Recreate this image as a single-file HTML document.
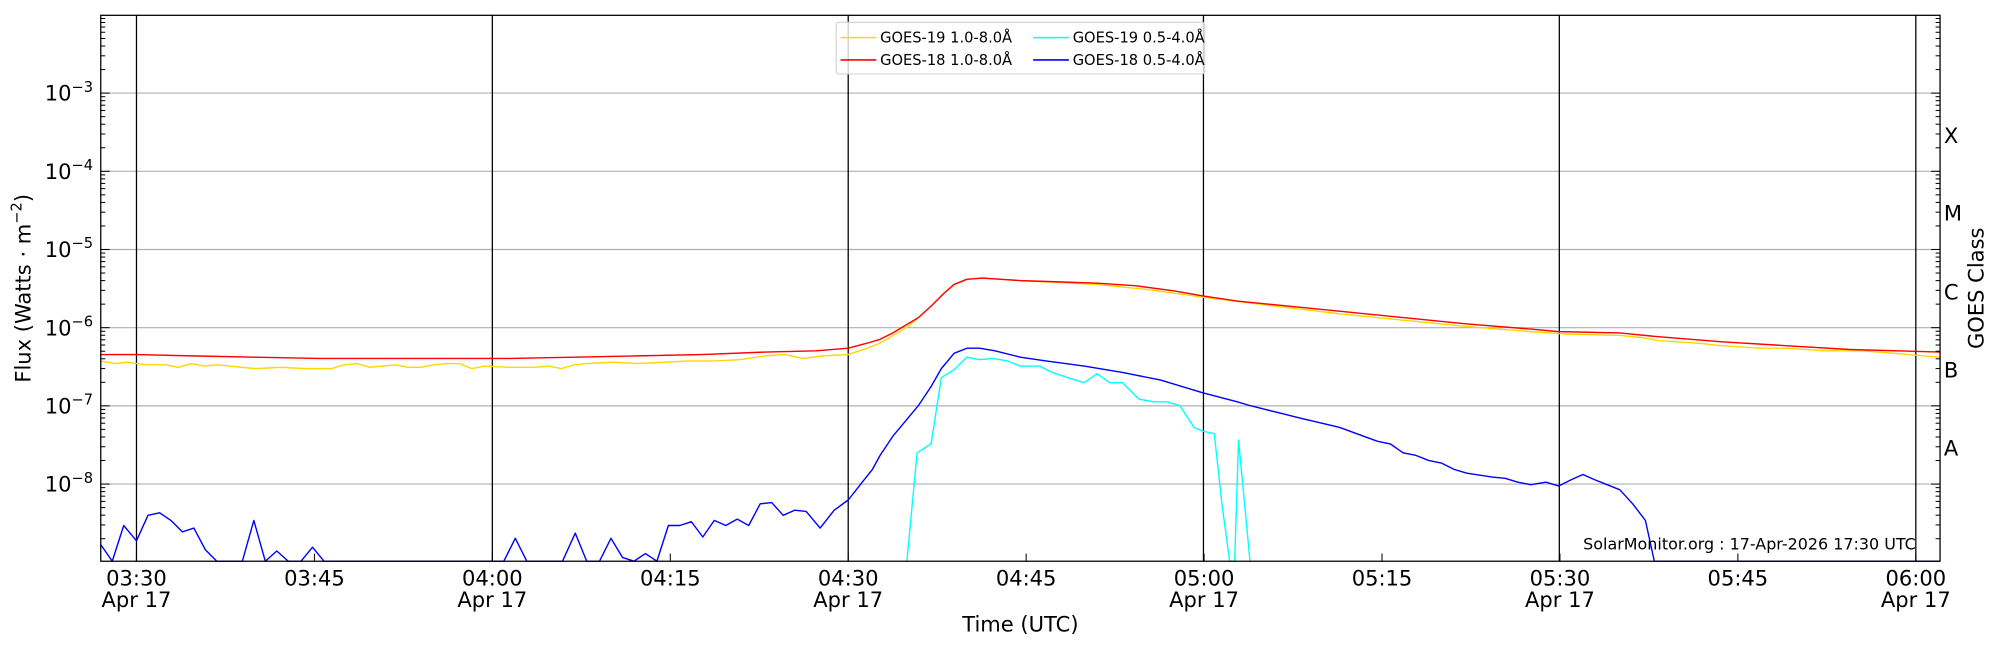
<!DOCTYPE html>
<html><head><meta charset="utf-8"><style>
html,body{margin:0;padding:0;background:#fff;width:2000px;height:650px;overflow:hidden}
svg{display:block}
text{font-family:"DejaVu Sans","Liberation Sans",sans-serif;fill:#000}
</style></head><body>
<svg id="s" width="2000" height="650" viewBox="0 0 1568 509.6" preserveAspectRatio="none" xmlns="http://www.w3.org/2000/svg">
<g id="grid" stroke="#b0b0b0" stroke-width="0.9">
<line x1="79" x2="1521" y1="73" y2="73"/><line x1="79" x2="1521" y1="134.3" y2="134.3"/>
<line x1="79" x2="1521" y1="195.6" y2="195.6"/><line x1="79" x2="1521" y1="256.9" y2="256.9"/>
<line x1="79" x2="1521" y1="318.2" y2="318.2"/><line x1="79" x2="1521" y1="379.5" y2="379.5"/>
</g>
<g stroke="#000" stroke-width="1">
<line x1="107" x2="107" y1="12" y2="440"/><line x1="386" x2="386" y1="12" y2="440"/>
<line x1="665" x2="665" y1="12" y2="440"/><line x1="943.5" x2="943.5" y1="12" y2="440"/>
<line x1="1222.5" x2="1222.5" y1="12" y2="440"/><line x1="1502" x2="1502" y1="12" y2="440"/>
</g>
<g fill="none" stroke-width="1.1" stroke-linejoin="round">
<polyline stroke="#00ffff" points="711,440 719,355 730,348 738,296 748,290 758,280 768,282 778,281 790,283 800,287 815,287 825,292 840,297 850,300 860,293 870,300 880,300 893,313 905,315 915,315 925,318 936,335 943,338 952,340 958,395 964,440 968,440 971,345 980,440"/>
<polyline stroke="#0000ff" points="79,427 88,440 97,412 107,424 116,404 125,402 134,408 143,417 152,414 161,431 170,440 190,440 199,408 208,440 217,432 226,440 236,440 245,429 254,440 395,440 404,422 413,440 441,440 451,418 460,440 470,440 479,422 488,437 497,440 506,434 515,440 524,412 533,412 542,409 551,421 560,408 569,412 578,407 587,412 596,395 605,394 614,404 623,400 632,401 643,414 654,400 665,392 676,378 684,368 690,357 700,342 710,330 720,318 730,303 738,289 748,277 758,273 768,273 780,275 800,280 820,283 850,287 880,292 910,298 943,308 970,315 980,318 1000,323 1020,328 1050,335 1080,346 1090,348 1100,355 1110,357 1120,361 1130,363 1140,368 1150,371 1170,374 1180,375 1190,378 1200,380 1212,378 1222,381 1232,376 1241,372 1250,376 1260,380 1270,384 1280,395 1290,408 1297,440 1521,440"/>
<polyline stroke="#ffd700" points="79,283 90,285 100,284 107,285 115,286 130,286 140,288 150,285 160,287 170,286 180,287 200,289 220,288 240,289 260,289 270,286 280,285 290,288 300,287 310,286 320,288 330,288 340,286 350,285 360,285 370,289 380,287 400,288 420,288 430,287 440,289 450,286 460,285 480,284 500,285 520,284 540,283 560,283 580,282 600,279 615,278 630,281 645,279 665,278 680,273 690,269 700,263 712,256 720,249 730,240 740,230 748,223 758,219 770,218 800,220 860,223 900,227 943,233 1000,240 1050,246 1100,251 1150,256 1200,260 1230,262 1270,263 1290,265 1300,267 1330,269 1350,271 1380,273 1400,273 1430,275 1460,275 1521,280"/>
<polyline stroke="#ff0000" points="79,278 107,278 150,279 200,280 250,281 300,281 350,281 400,281 450,280 500,279 550,278 600,276 640,275 665,273 680,269 690,266 700,261 710,255 720,249 730,240 740,230 748,223 758,219 770,218 785,219 800,220 830,221 860,222 890,224 920,228 943,232 970,236 1000,239 1050,244 1100,249 1150,254 1200,258 1222,260 1270,261 1300,264 1350,268 1400,271 1450,274 1521,276"/>
</g>
<g id="ticks" stroke="#000" stroke-width="0.8"></g>
<rect x="79" y="12" width="1442" height="428" fill="none" stroke="#000" stroke-width="1"/>
<g font-size="16.5" text-anchor="end" id="ylab"></g>
<g font-size="16.5" text-anchor="middle" id="xlab"></g>
<g font-size="16.5">
<text x="1524" y="112">X</text><text x="1524" y="173">M</text><text x="1524" y="235">C</text><text x="1524" y="296">B</text><text x="1524" y="357">A</text>
</g>
<text font-size="16.5" transform="translate(1555,226) rotate(-90)" text-anchor="middle">GOES Class</text>
<text font-size="16.5" transform="translate(24,226) rotate(-90)" text-anchor="middle">Flux (Watts · m<tspan font-size="11.5" dy="-7">−2</tspan><tspan dy="7">)</tspan></text>
<text font-size="16.5" x="800" y="495" text-anchor="middle">Time (UTC)</text>
<text font-size="12.5" x="1502" y="431" text-anchor="end">SolarMonitor.org : 17-Apr-2026 17:30 UTC</text>
<rect x="655.5" y="17.5" width="289" height="40.5" rx="2" fill="#fff" fill-opacity="0.8" stroke="#d0d0d0" stroke-width="0.8"/>
<g stroke-width="1.2">
<line x1="659" x2="687" y1="29.5" y2="29.5" stroke="#ffd700"/><line x1="659" x2="687" y1="47" y2="47" stroke="#ff0000"/>
<line x1="810" x2="838" y1="29.5" y2="29.5" stroke="#00ffff"/><line x1="810" x2="838" y1="47" y2="47" stroke="#0000ff"/>
</g>
<g font-size="11.5">
<text x="690" y="33.5">GOES-19 1.0-8.0Å</text><text x="690" y="51">GOES-18 1.0-8.0Å</text>
<text x="841" y="33.5">GOES-19 0.5-4.0Å</text><text x="841" y="51">GOES-18 0.5-4.0Å</text>
</g>
</svg>
<script>
var NS="http://www.w3.org/2000/svg",t=document.getElementById('ticks'),yl=document.getElementById('ylab'),xl=document.getElementById('xlab');
function L(x1,y1,x2,y2){var l=document.createElementNS(NS,'line');l.setAttribute('x1',x1);l.setAttribute('y1',y1);l.setAttribute('x2',x2);l.setAttribute('y2',y2);t.appendChild(l);}
function T(g,x,y,s){var e=document.createElementNS(NS,'text');e.setAttribute('x',x);e.setAttribute('y',y);e.innerHTML=s;g.appendChild(e);}
var dec=61.3;function Y(v){return 379.5-(v+8)*dec;}
for(var d=-9;d<=-3;d++){for(var k=1;k<10;k++){var y=Y(d+Math.log10(k));if(y<12||y>440)continue;var len=k==1?7:3.5;L(79,y,79+len,y);L(1521,y,1521-len,y);}}
for(var d=-8;d<=-3;d++){T(yl,73,Y(d)+6,'10<tspan font-size="11.5" dy="-7">−'+(-d)+'</tspan>');}
var times=['03:30','03:45','04:00','04:15','04:30','04:45','05:00','05:15','05:30','05:45','06:00'];
for(var i=0;i<times.length;i++){var x=107+i*139.5;L(x,440,x,434);T(xl,x,459,times[i]);if(i%2==0)T(xl,x,476,'Apr 17');}
</script>
</body></html>
